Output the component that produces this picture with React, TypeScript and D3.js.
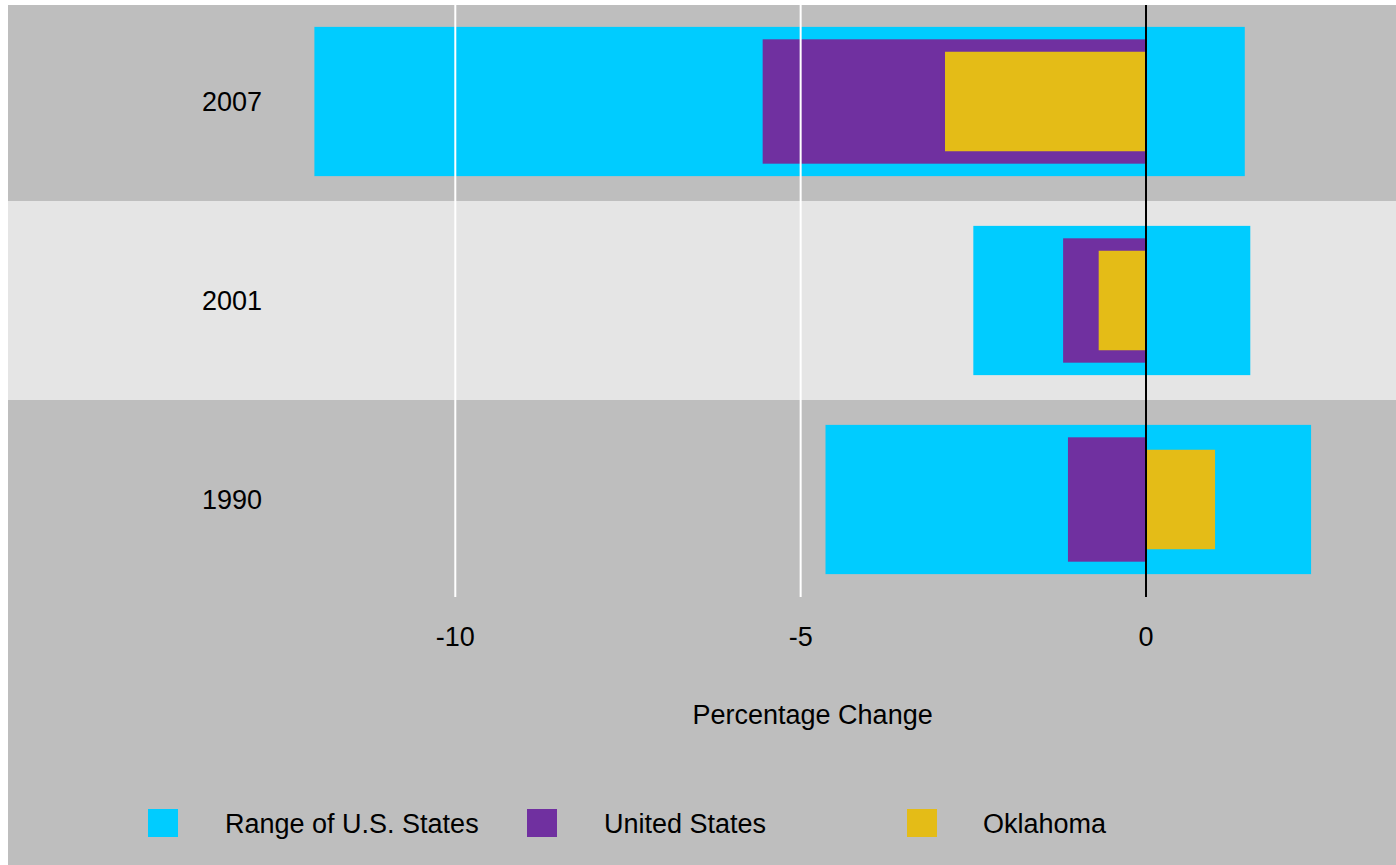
import React from "react";
import * as d3 from "d3";

const years = ["2007", "2001", "1990"];
const rangeMin = [-12.04, -2.5, -4.64];
const rangeMax = [1.43, 1.51, 2.39];
const usValues = [-5.55, -1.2, -1.13];
const okValues = [-2.91, -0.685, 1.0];
const xTicks = [-10, -5, 0];
const seriesNames = ["Range of U.S. States", "United States", "Oklahoma"];
const seriesColors = ["#00ccff", "#7030a0", "#e4bc17"];

const W = 1396;
const H = 865;
const FONT = "'Liberation Sans', Arial, Helvetica, sans-serif";

export default function App() {
  const x = d3.scaleLinear().domain([-10, 0]).range([455.3, 1146]);
  const y = d3.scaleBand<string>().domain(years).range([2, 599]).padding(0);
  const bw = y.bandwidth();
  const top = 5;
  const plotBottom = 597;
  const bandColors = ["#bebebe", "#e5e5e5", "#bebebe"];

  const legendX = [148, 527, 907];
  const legendTextX = [225, 604, 983];

  return (
    <svg
      width={W}
      height={H}
      style={{ position: "absolute", left: 0, top: 0, display: "block" }}
      fontFamily={FONT}
    >
      <rect x={0} y={0} width={W} height={H} fill="#ffffff" />
      <rect x={8} y={top} width={W - 8} height={H - top} fill="#bebebe" />
      {years.map((yr, i) => {
        const y0 = Math.max(y(yr)!, top);
        const y1 = y(yr)! + bw;
        return (
          <rect key={"band" + yr} x={8} y={y0} width={W - 8} height={y1 - y0} fill={bandColors[i]} />
        );
      })}
      {years.map((yr, i) => {
        const c = y(yr)! + bw / 2;
        const hR = bw * 0.75;
        const hU = bw * 0.625;
        const hO = bw * 0.5;
        const rect = (v0: number, v1: number, h: number, fill: string, k: string) => {
          const a = x(Math.min(v0, v1));
          const b = x(Math.max(v0, v1));
          return <rect key={k} x={a} y={c - h / 2} width={b - a} height={h} fill={fill} />;
        };
        return (
          <g key={"bars" + yr}>
            {rect(rangeMin[i], rangeMax[i], hR, seriesColors[0], "r")}
            {rect(0, usValues[i], hU, seriesColors[1], "u")}
            {rect(0, okValues[i], hO, seriesColors[2], "o")}
            <text x={262} y={c + 9} textAnchor="end" fontSize={27} fill="#000">
              {yr}
            </text>
          </g>
        );
      })}
      {xTicks.map((t) => (
        <g key={"tick" + t}>
          <line
            x1={x(t)}
            x2={x(t)}
            y1={top}
            y2={plotBottom}
            stroke={t === 0 ? "#000000" : "#ffffff"}
            strokeWidth={2}
          />
          <text x={x(t)} y={646} textAnchor="middle" fontSize={27} fill="#000">
            {t}
          </text>
        </g>
      ))}
      <text x={812.6} y={724} textAnchor="middle" fontSize={27} fill="#000">
        Percentage Change
      </text>
      {seriesNames.map((s, i) => (
        <g key={"leg" + s}>
          <rect x={legendX[i]} y={809} width={30} height={28} fill={seriesColors[i]} />
          <text x={legendTextX[i]} y={833} fontSize={27} fill="#000">
            {s}
          </text>
        </g>
      ))}
    </svg>
  );
}
